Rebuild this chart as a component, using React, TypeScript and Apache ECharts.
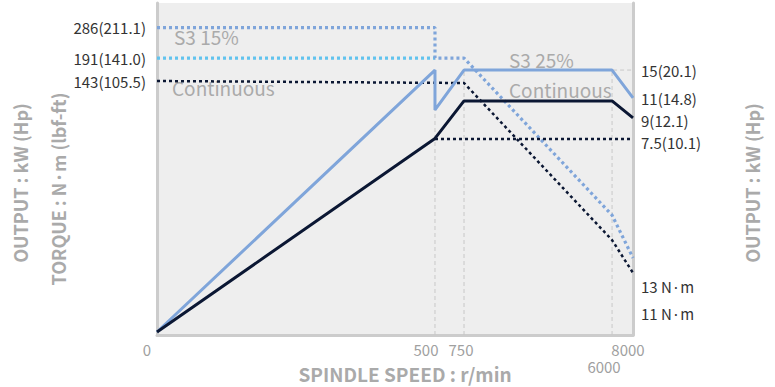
import React, { useEffect, useRef } from "react";
import * as echarts from "echarts";

// speed axis (r/min) – the chart uses a non-linear (piecewise) speed scale
const speedTicks = [0, 500, 750, 6000, 8000];
const speedTickLabels = ["0", "500", "750", "6000", "8000"];

// drawn levels on a schematic 0–100 vertical scale
const s3_15TorqueSpeed = [0, 500, 500, 750, 6000, 8000];
const s3_15TorqueLevel = [92.6, 92.6, 83.4, 83.4, 36.1, 23.2];
const s3_25TorqueSpeed = [0, 500];
const s3_25TorqueLevel = [83.4, 83.4];
const contTorqueSpeed = [0, 750, 6000, 8000];
const contTorqueLevel = [76.5, 75.9, 28.6, 18.7];
const s3OutputSpeed = [0, 500, 500, 750, 6000, 8000];
const s3OutputLevel = [0.9, 79.8, 67.8, 79.8, 79.8, 71.4];
const contOutputSpeed = [0, 500, 750, 6000, 8000];
const contOutputLevel = [0.9, 59.2, 70.5, 70.5, 65.4];
const contOutputLowSpeed = [500, 8000];
const contOutputLowLevel = [59.0, 59.0];

const leftLabels = ["286(211.1)", "191(141.0)", "143(105.5)"];
const leftLabelLevels = [92.6, 83.4, 76.5];
const rightLabels = ["15(20.1)", "11(14.8)", "9(12.1)", "7.5(10.1)", "13 N·m", "11 N·m"];
const rightLabelLevels = [79.8, 71.1, 64.5, 58.1, 14.5, 6.6];

// piecewise scale: where each speed break sits along the axis (0–100)
const scaleBreaks = [0, 500, 750, 6000, 8000];
const scalePos = [0, 58.4, 64.5, 95.6, 100];
function toPos(rpm: number): number {
  for (let i = 1; i < scaleBreaks.length; i++) {
    if (rpm <= scaleBreaks[i]) {
      const a = scaleBreaks[i - 1], b = scaleBreaks[i];
      return scalePos[i - 1] + ((rpm - a) / (b - a)) * (scalePos[i] - scalePos[i - 1]);
    }
  }
  return 100;
}
const pts = (sp: number[], lv: number[]) => sp.map((s, i) => [toPos(s), lv[i]]);

const FONT = "'Noto Sans CJK JP', 'Noto Sans', sans-serif";
const BLUE = "#7fa5da";
const NAVY = "#0b1733";
const CYAN = "#62c3ee";
const GUIDE = "#c8c8c8";

export default function App() {
  const ref = useRef<HTMLDivElement>(null);
  useEffect(() => {
    document.body.style.margin = "0";
    const chart = echarts.init(ref.current!, null, { renderer: "svg" });
    const guide = (data: number[][]) => ({
      type: "line",
      data,
      symbol: "none",
      silent: true,
      lineStyle: { color: GUIDE, width: 1, type: [4, 3] },
    });
    const tickPos = speedTicks.map(toPos);
    const xRich: any = {
      t0: { padding: [0, 20, 0, 0] },
      t500: { padding: [0, 18, 0, 0] },
      t750: { padding: [0, 6, 0, 0] },
      t6000: { padding: [17, 16, 0, 0] },
      t8000: { padding: [0, 10, 0, 0] },
    };
    Object.keys(xRich).forEach((k) => {
      xRich[k].color = "#a0a0a0";
      xRich[k].fontSize = 15;
      xRich[k].fontFamily = FONT;
    });
    const findIdx = (arr: number[], v: number) => arr.findIndex((x) => Math.abs(x - v) < 1e-6);
    chart.setOption({
      animation: false,
      grid: { left: 157, right: 142, top: 3, bottom: 52, show: true, backgroundColor: "#eeeeee", borderWidth: 0 },
      xAxis: {
        type: "value",
        min: 0,
        max: 100,
        axisLine: { show: true, lineStyle: { color: "#cccccc", width: 3 } },
        axisTick: { show: false },
        splitLine: { show: false },
        axisLabel: {
          customValues: tickPos,
          margin: 7,
          formatter: (v: number) => {
            const i = findIdx(tickPos, v);
            if (i < 0) return "";
            return `{t${speedTicks[i]}|${speedTickLabels[i]}}`;
          },
          rich: xRich,
        },
      },
      yAxis: [
        {
          type: "value",
          min: 0,
          max: 100,
          position: "left",
          axisLine: { show: true, lineStyle: { color: "#cccccc", width: 3 } },
          axisTick: { show: false },
          splitLine: { show: false },
          axisLabel: {
            customValues: leftLabelLevels,
            margin: 11,
            color: "#333333",
            fontSize: 15,
            lineHeight: 16,
            fontFamily: FONT,
            formatter: (v: number) => {
              const i = findIdx(leftLabelLevels, v);
              return i < 0 ? "" : leftLabels[i];
            },
          },
        },
        {
          type: "value",
          min: 0,
          max: 100,
          position: "right",
          axisLine: { show: true, onZero: false, lineStyle: { color: "#cccccc", width: 3 } },
          axisTick: { show: false },
          splitLine: { show: false },
          axisLabel: {
            customValues: rightLabelLevels,
            margin: 8,
            color: "#333333",
            fontSize: 15,
            lineHeight: 16,
            fontFamily: FONT,
            formatter: (v: number) => {
              const i = findIdx(rightLabelLevels, v);
              return i < 0 ? "" : rightLabels[i];
            },
          },
        },
      ],
      series: [
        guide([[toPos(500), 0], [toPos(500), s3OutputLevel[2]]]),
        guide([[toPos(750), 0], [toPos(750), s3OutputLevel[3]]]),
        guide([[toPos(6000), 0], [toPos(6000), s3OutputLevel[4]], [toPos(8000), s3OutputLevel[4]]]),
        {
          type: "line",
          data: pts(s3_25TorqueSpeed, s3_25TorqueLevel),
          symbol: "none",
          lineStyle: { color: CYAN, width: 3.2, type: [3, 3] },
        },
        {
          type: "line",
          data: pts(s3_15TorqueSpeed, s3_15TorqueLevel),
          symbol: "none",
          lineStyle: { color: BLUE, width: 3.2, type: [3, 3] },
        },
        {
          type: "line",
          data: pts(contTorqueSpeed, contTorqueLevel),
          symbol: "none",
          lineStyle: { color: NAVY, width: 2.5, type: [3, 3] },
        },
        {
          type: "line",
          data: pts(contOutputLowSpeed, contOutputLowLevel),
          symbol: "none",
          lineStyle: { color: NAVY, width: 2.5, type: [3, 3] },
        },
        {
          type: "line",
          data: pts(s3OutputSpeed, s3OutputLevel),
          symbol: "none",
          lineStyle: { color: BLUE, width: 3 },
        },
        {
          type: "line",
          data: pts(contOutputSpeed, contOutputLevel),
          symbol: "none",
          lineStyle: { color: NAVY, width: 3 },
        },
      ],
      graphic: [
        { type: "text", left: 174, top: 27, style: { text: "S3 15%", fill: "#aaaaaa", font: `19px ${FONT}` } },
        { type: "text", left: 172, top: 78, style: { text: "Continuous", fill: "#aaaaaa", font: `19px ${FONT}` } },
        { type: "text", left: 509, top: 50, style: { text: "S3 25%", fill: "#aaaaaa", font: `19px ${FONT}` } },
        { type: "text", left: 509, top: 80, style: { text: "Continuous", fill: "#aaaaaa", font: `19px ${FONT}` } },
        {
          type: "text",
          x: 405,
          y: 373,
          style: { text: "SPINDLE SPEED : r/min", fill: "#aaaaaa", font: `bold 19px ${FONT}`, align: "center", verticalAlign: "middle" },
        },
        {
          type: "text",
          x: 20,
          y: 183,
          rotation: Math.PI / 2,
          style: { text: "OUTPUT : kW (Hp)", fill: "#aaaaaa", font: `bold 18px ${FONT}`, align: "center", verticalAlign: "middle" },
        },
        {
          type: "text",
          x: 58,
          y: 189,
          rotation: Math.PI / 2,
          style: { text: "TORQUE : N·m (lbf-ft)", fill: "#aaaaaa", font: `bold 18px ${FONT}`, align: "center", verticalAlign: "middle" },
        },
        {
          type: "text",
          x: 752,
          y: 183,
          rotation: Math.PI / 2,
          style: { text: "OUTPUT : kW (Hp)", fill: "#aaaaaa", font: `bold 18px ${FONT}`, align: "center", verticalAlign: "middle" },
        },
      ],
    });
    return () => chart.dispose();
  }, []);
  return <div ref={ref} style={{ width: 775, height: 387 }} />;
}
